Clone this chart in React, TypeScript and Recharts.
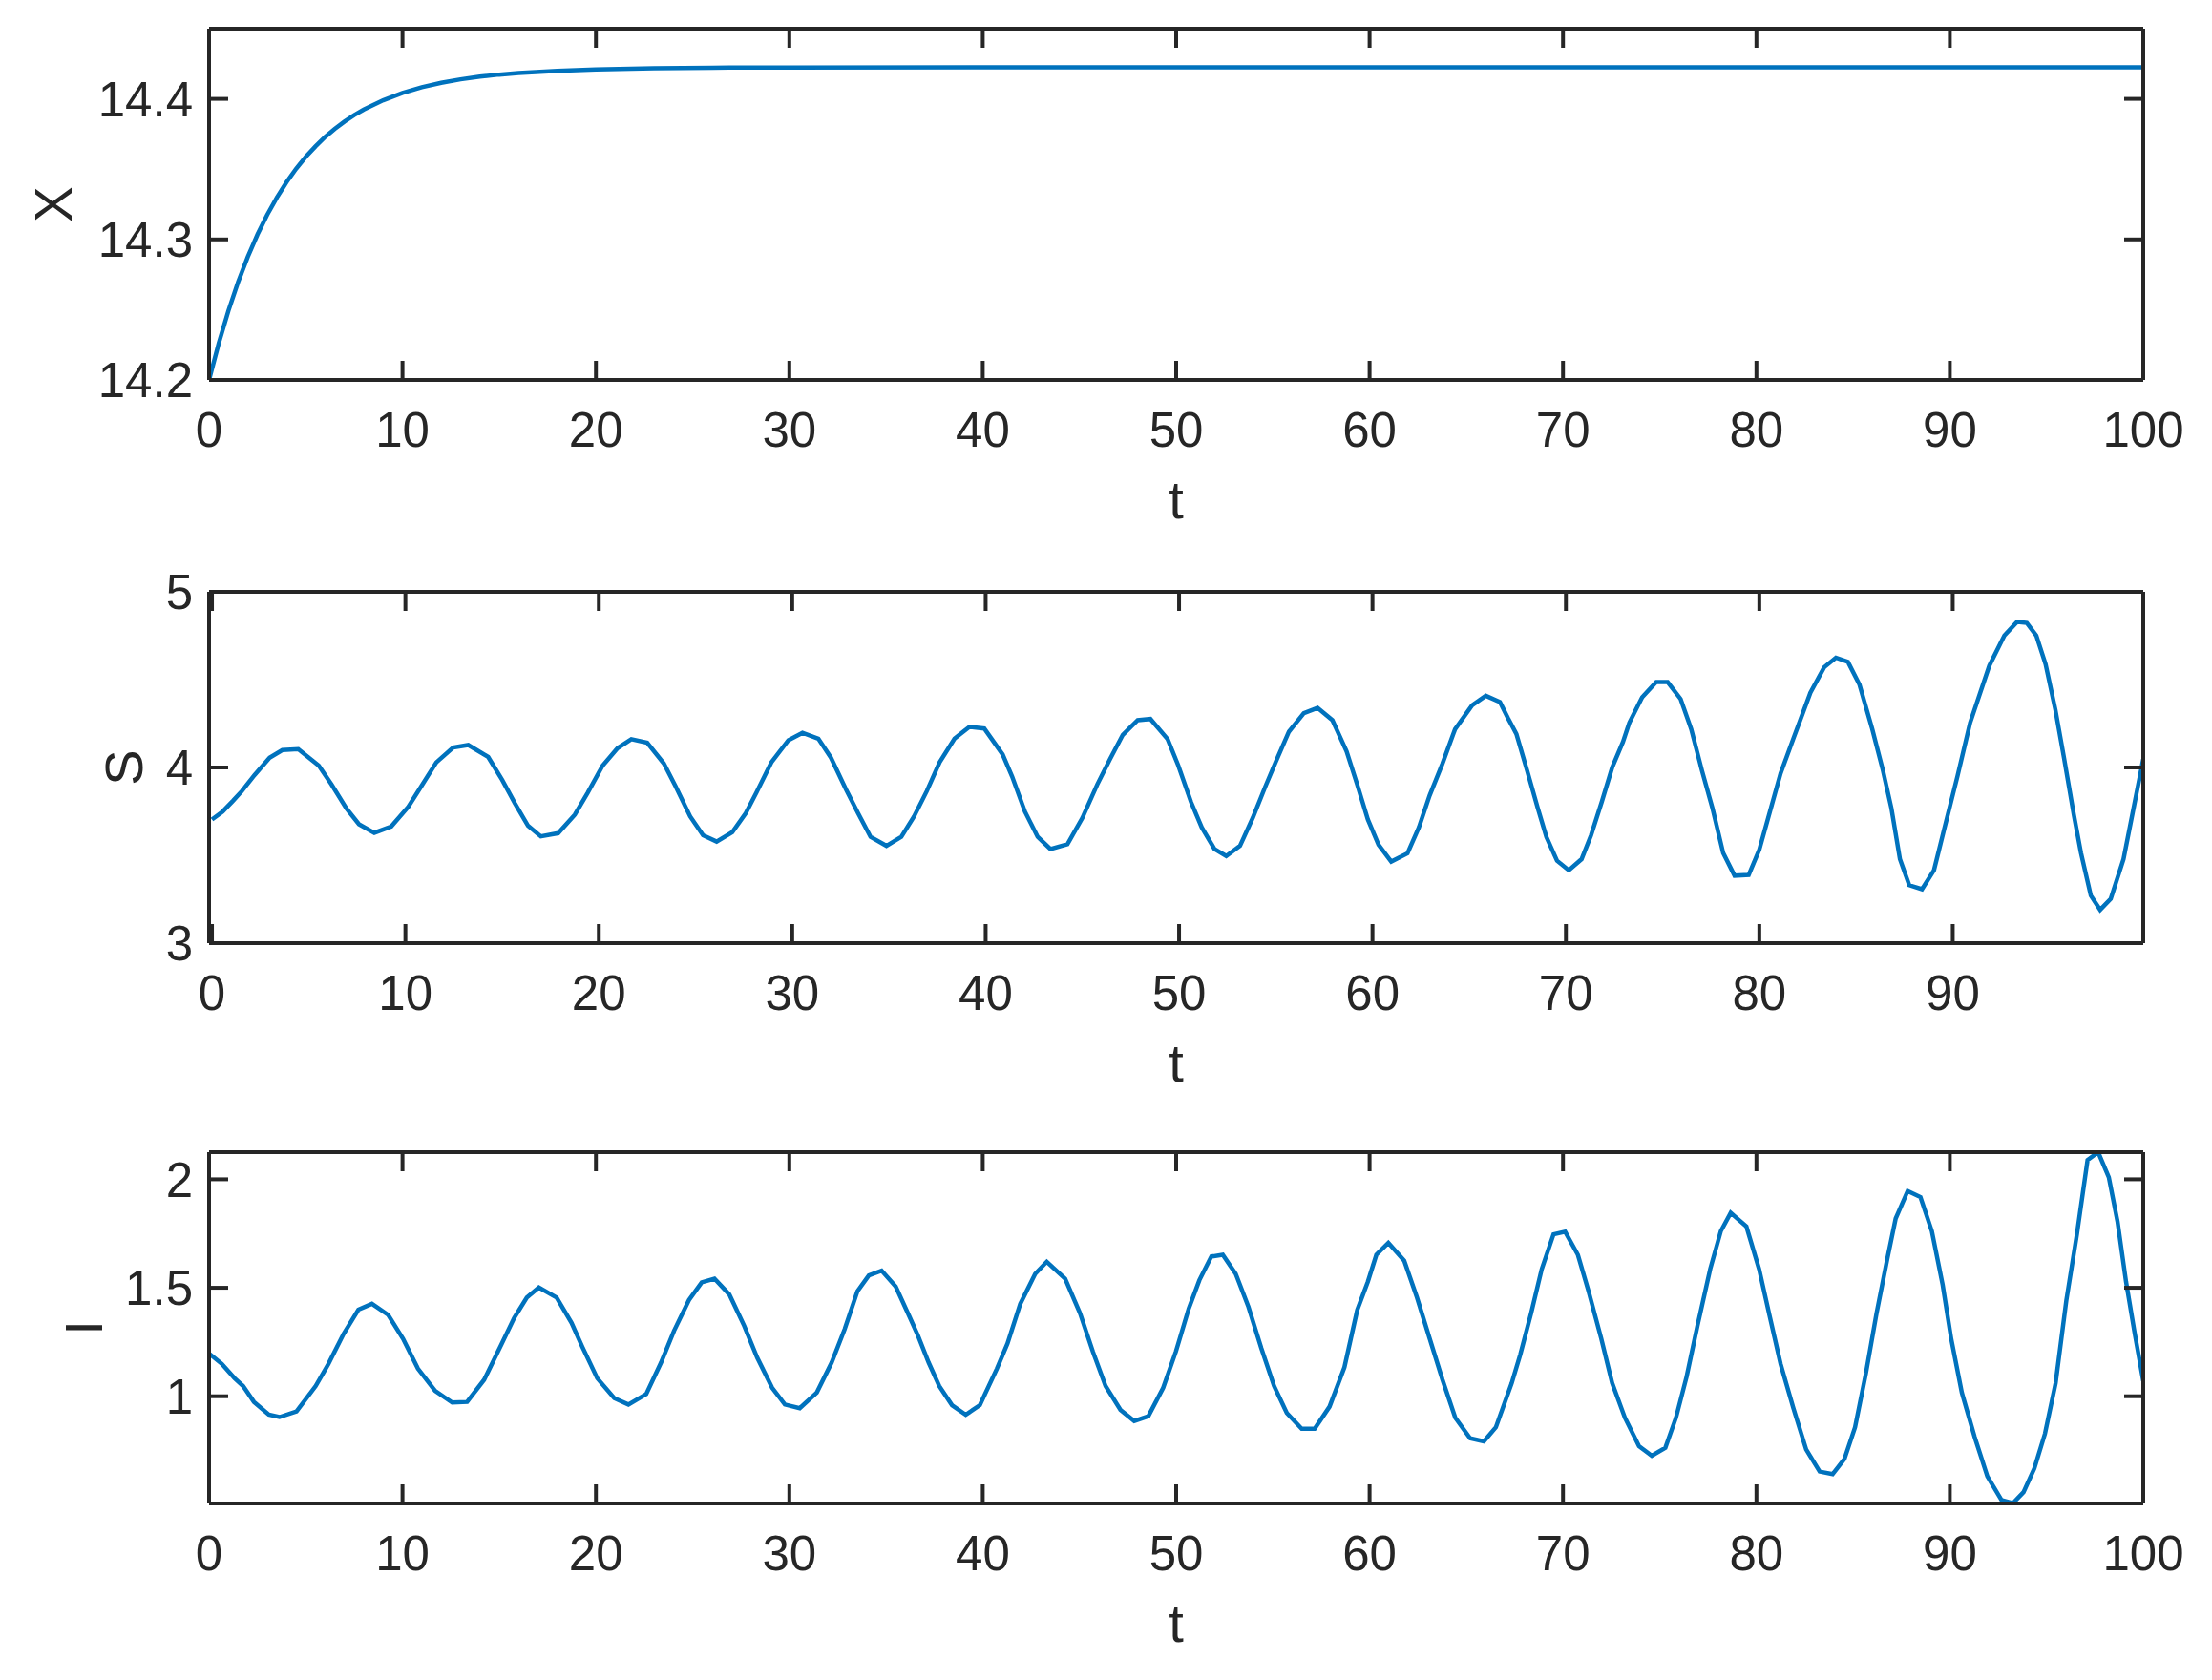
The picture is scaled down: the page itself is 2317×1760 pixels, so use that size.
import React from "react";
import { LineChart, Line, XAxis, YAxis } from "recharts";

const AXIS_COLOR = "#262626";
const LINE_COLOR = "#0072BD";
const FONT = '"Liberation Sans", Arial, Helvetica, sans-serif';

// X(t)
const xTimes = [
  0, 0.5, 1, 1.5, 2, 2.5, 3, 3.5, 4, 4.5, 5, 5.5, 6, 6.5, 7, 7.5, 8, 9, 10, 11,
  12, 13, 14, 15, 16, 18, 20, 23, 26, 30, 40, 50, 60, 70, 80, 90, 100,
];
const xValues = [
  14.2, 14.2261, 14.2492, 14.2696, 14.2875, 14.3034, 14.3174, 14.3297, 14.3406,
  14.3503, 14.3588, 14.3662, 14.3729, 14.3787, 14.3838, 14.3884, 14.3924,
  14.399, 14.4042, 14.4083, 14.4114, 14.4139, 14.4158, 14.4173, 14.4184, 14.42,
  14.421, 14.4218, 14.4222, 14.4224, 14.4225, 14.4225, 14.4225, 14.4225,
  14.4225, 14.4225, 14.4225,
];

// S(t)
const sTimes = [
  0, 0.55, 1.1, 1.55, 2.2, 2.98, 3.64, 4.46, 5.52, 6.18, 6.95, 7.6, 8.39, 9.27,
  10.15, 10.82, 11.6, 12.47, 13.25, 14.28, 15.0, 15.67, 16.34, 17.0, 17.9,
  18.76, 19.43, 20.2, 20.97, 21.68, 22.5, 23.36, 23.97, 24.72, 25.39, 26.09,
  26.9, 27.6, 28.15, 28.92, 29.8, 30.53, 31.35, 32.0, 32.78, 33.4, 34.05, 34.87,
  35.64, 36.3, 36.96, 37.62, 38.39, 39.16, 39.93, 40.88, 41.37, 42.03, 42.69,
  43.35, 44.23, 45.0, 45.77, 46.43, 47.09, 47.86, 48.52, 49.41, 49.96, 50.62,
  51.17, 51.83, 52.44, 53.15, 53.81, 54.47, 55.02, 55.68, 56.45, 57.16, 57.93,
  58.66, 59.21, 59.76, 60.31, 60.97, 61.81, 62.4, 62.95, 63.61, 64.27, 65.15,
  65.86, 66.59, 67.0, 67.44, 67.99, 68.55, 68.99, 69.54, 70.15, 70.81, 71.3,
  71.85, 72.4, 72.95, 73.28, 73.94, 74.67, 75.26, 75.93, 76.48, 77.03, 77.58,
  78.13, 78.72, 79.45, 80.0, 80.55, 81.1, 81.76, 82.64, 83.35, 83.96, 84.58,
  85.18, 85.84, 86.39, 86.83, 87.27, 87.75, 88.41, 89.03, 89.58, 90.24, 90.9,
  91.89, 92.67, 93.33, 93.83, 94.32, 94.8, 95.31, 95.75, 96.26, 96.63, 97.14,
  97.62, 98.17, 98.83, 99.38, 99.85,
];
const sValues = [
  3.704, 3.749, 3.812, 3.866, 3.957, 4.056, 4.099, 4.105, 4.011, 3.903, 3.767,
  3.677, 3.628, 3.664, 3.776, 3.893, 4.029, 4.114, 4.128, 4.06, 3.93, 3.794,
  3.668, 3.608, 3.626, 3.731, 3.857, 4.011, 4.11, 4.161, 4.141, 4.023, 3.893,
  3.722, 3.614, 3.578, 3.632, 3.74, 3.857, 4.029, 4.155, 4.197, 4.164, 4.056,
  3.875, 3.74, 3.605, 3.554, 3.605, 3.722, 3.866, 4.029, 4.164, 4.231, 4.222,
  4.074, 3.948, 3.749, 3.605, 3.536, 3.563, 3.713, 3.903, 4.047, 4.186, 4.269,
  4.276, 4.161, 4.011, 3.803, 3.659, 3.536, 3.496, 3.554, 3.713, 3.894, 4.038,
  4.204, 4.309, 4.339, 4.269, 4.092, 3.903, 3.704, 3.56, 3.464, 3.511, 3.659,
  3.839, 4.02, 4.218, 4.354, 4.408, 4.372, 4.282, 4.191, 3.984, 3.767, 3.605,
  3.469, 3.415, 3.478, 3.614, 3.803, 4.002, 4.146, 4.255, 4.399, 4.486, 4.486,
  4.39, 4.218, 3.984, 3.767, 3.514, 3.384, 3.388, 3.532, 3.749, 3.966, 4.164,
  4.426, 4.57, 4.625, 4.601, 4.471, 4.218, 3.984, 3.767, 3.478, 3.33, 3.307,
  3.415, 3.659, 3.948, 4.255, 4.579, 4.751, 4.829, 4.823, 4.751, 4.588, 4.327,
  4.056, 3.731, 3.514, 3.271, 3.19, 3.253, 3.478, 3.785, 4.047,
];

// I(t)
const iTimes = [
  0, 0.66, 1.32, 1.76, 2.32, 3.09, 3.64, 4.52, 5.51, 6.17, 6.95, 7.72, 8.42,
  9.26, 10.03, 10.8, 11.69, 12.57, 13.34, 14.22, 15.1, 15.77, 16.43, 17.05,
  17.97, 18.74, 19.29, 20.07, 20.95, 21.68, 22.6, 23.37, 24.04, 24.81, 25.47,
  26.13, 26.9, 27.67, 28.34, 29.11, 29.77, 30.54, 31.42, 32.19, 32.86, 33.52,
  34.11, 34.77, 35.5, 36.21, 36.65, 37.2, 37.75, 38.41, 39.12, 39.85, 40.73,
  41.28, 41.94, 42.71, 43.31, 44.26, 45.03, 45.69, 46.35, 47.12, 47.83, 48.56,
  49.33, 49.99, 50.65, 51.2, 51.82, 52.41, 53.08, 53.74, 54.4, 55.06, 55.72,
  56.49, 57.16, 57.93, 58.7, 59.36, 59.91, 60.35, 60.97, 61.79, 62.45, 63.11,
  63.77, 64.43, 65.2, 65.91, 66.53, 67.35, 67.79, 68.35, 68.9, 69.51, 70.11,
  70.77, 71.32, 71.98, 72.54, 73.2, 73.93, 74.59, 75.29, 75.84, 76.39, 76.95,
  77.61, 78.16, 78.67, 79.48, 80.14, 80.69, 81.25, 81.91, 82.57, 83.27, 83.94,
  84.55, 85.1, 85.66, 86.21, 86.76, 87.2, 87.82, 88.48, 89.07, 89.63, 90.07,
  90.62, 91.28, 91.94, 92.67, 93.26, 93.81, 94.37, 94.92, 95.47, 96.02, 96.57,
  97.12, 97.67, 98.22, 98.67, 99.11, 99.55, 100,
];
const iValues = [
  1.197, 1.149, 1.083, 1.047, 0.974, 0.915, 0.904, 0.93, 1.047, 1.149, 1.287,
  1.399, 1.426, 1.375, 1.265, 1.127, 1.025, 0.971, 0.974, 1.076, 1.236, 1.36,
  1.455, 1.501, 1.455, 1.338, 1.229, 1.083, 0.991, 0.962, 1.01, 1.156, 1.302,
  1.443, 1.525, 1.542, 1.469, 1.324, 1.178, 1.039, 0.962, 0.945, 1.017, 1.156,
  1.309, 1.484, 1.557, 1.579, 1.506, 1.367, 1.28, 1.156, 1.047, 0.959, 0.915,
  0.959, 1.127, 1.243, 1.426, 1.564, 1.62, 1.542, 1.382, 1.207, 1.047, 0.937,
  0.886, 0.908, 1.039, 1.207, 1.404, 1.535, 1.644, 1.652, 1.564, 1.411, 1.222,
  1.047, 0.923, 0.85, 0.85, 0.952, 1.134, 1.397, 1.528, 1.652, 1.707, 1.625,
  1.455, 1.265, 1.076, 0.901, 0.806, 0.792, 0.857, 1.061, 1.192, 1.382, 1.586,
  1.746, 1.758, 1.652, 1.484, 1.265, 1.061, 0.901, 0.77, 0.726, 0.762, 0.901,
  1.09, 1.324, 1.586, 1.761, 1.845, 1.783, 1.586, 1.367, 1.149, 0.945, 0.755,
  0.653, 0.641, 0.711, 0.857, 1.105, 1.382, 1.63, 1.819, 1.946, 1.918, 1.761,
  1.513, 1.265, 1.017, 0.813, 0.631, 0.522, 0.507, 0.558, 0.668, 0.828, 1.061,
  1.44, 1.746, 2.089, 2.125, 2.009, 1.805, 1.528, 1.294, 1.071,
];

const tTicks = [0, 10, 20, 30, 40, 50, 60, 70, 80, 90, 100];
const sTimeTicks = [0, 10, 20, 30, 40, 50, 60, 70, 80, 90];
const xTicks = [14.2, 14.3, 14.4];
const sTicks = [3, 4, 5];
const iTicks = [1, 1.5, 2];

const toRows = (ts: number[], vs: number[]) =>
  ts.map((t, i) => ({ t, v: vs[i] }));

const W = 2317;
const PLOT_H = 368;
const M_TOP = 40; // room above the box so the top tick label is not cut
const M_RIGHT = 71;
const X_AXIS_H = 160;
const Y_AXIS_W = 219;
const TICK = 20;
const LW = 4;

interface PanelProps {
  top: number;
  data: { t: number; v: number }[];
  xDomain: [number, number];
  xTickVals: number[];
  yDomain: [number, number];
  yTickVals: number[];
  yLabel: string;
  yLabelCenter: number;
}

const lineStyle = { stroke: AXIS_COLOR, strokeWidth: LW };
const tickText = { fill: AXIS_COLOR, fontSize: 51, fontFamily: FONT };
// mirrored edges keep their tick marks but show no labels
const noLabel = () => <g />;

const Panel = ({
  top,
  data,
  xDomain,
  xTickVals,
  yDomain,
  yTickVals,
  yLabel,
  yLabelCenter,
}: PanelProps) => {
  const plotMidX = Y_AXIS_W + (W - M_RIGHT - 1 - Y_AXIS_W) / 2;
  const xLabel = () => (
    <text
      x={plotMidX}
      y={M_TOP + PLOT_H + 145}
      textAnchor="middle"
      fill={AXIS_COLOR}
      fontSize={56}
      fontFamily={FONT}
    >
      t
    </text>
  );
  const bx = yLabelCenter + 20;
  const cy = M_TOP + PLOT_H / 2;
  const yLab = () => (
    <text
      x={bx}
      y={cy}
      transform={`rotate(-90, ${bx}, ${cy})`}
      textAnchor="middle"
      fill={AXIS_COLOR}
      fontSize={56}
      fontFamily={FONT}
    >
      {yLabel}
    </text>
  );

  return (
    <div style={{ position: "absolute", left: 0, top: top - M_TOP }}>
      <LineChart
        width={W}
        height={M_TOP + PLOT_H + X_AXIS_H}
        data={data}
        margin={{ top: M_TOP - 1, right: M_RIGHT, bottom: 0, left: 0 }}
      >
        <XAxis
          xAxisId="b"
          dataKey="t"
          type="number"
          domain={xDomain}
          ticks={xTickVals}
          allowDataOverflow
          interval={0}
          height={X_AXIS_H}
          tickSize={-TICK}
          tickMargin={54}
          axisLine={lineStyle}
          tickLine={lineStyle}
          tick={tickText}
          label={xLabel}
        />
        <XAxis
          xAxisId="tp"
          orientation="top"
          dataKey="t"
          type="number"
          domain={xDomain}
          ticks={xTickVals}
          allowDataOverflow
          interval={0}
          height={1}
          tick={noLabel}
          tickSize={-TICK}
          axisLine={lineStyle}
          tickLine={lineStyle}
        />
        <YAxis
          yAxisId="l"
          type="number"
          domain={yDomain}
          ticks={yTickVals}
          allowDataOverflow
          interval={0}
          width={Y_AXIS_W}
          tickSize={-TICK}
          tickMargin={37}
          axisLine={lineStyle}
          tickLine={lineStyle}
          tick={tickText}
          label={yLab}
        />
        <YAxis
          yAxisId="r"
          orientation="right"
          dataKey="v"
          type="number"
          domain={yDomain}
          ticks={yTickVals}
          allowDataOverflow
          interval={0}
          width={1}
          tick={noLabel}
          tickSize={-TICK}
          axisLine={lineStyle}
          tickLine={lineStyle}
        />
        <Line
          xAxisId="b"
          yAxisId="l"
          type="linear"
          dataKey="v"
          stroke={LINE_COLOR}
          strokeWidth={4.5}
          dot={false}
          isAnimationActive={false}
        />
        <Line
          xAxisId="tp"
          yAxisId="r"
          type="linear"
          dataKey="v"
          stroke="none"
          dot={false}
          activeDot={false}
          legendType="none"
          isAnimationActive={false}
        />
      </LineChart>
    </div>
  );
};

export default function App() {
  return (
    <div
      style={{
        position: "absolute",
        left: 0,
        top: 0,
        width: W,
        height: 1760,
        background: "#fff",
      }}
    >
      <Panel
        top={30}
        data={toRows(xTimes, xValues)}
        xDomain={[0, 100]}
        xTickVals={tTicks}
        yDomain={[14.2, 14.45]}
        yTickVals={xTicks}
        yLabel="X"
        yLabelCenter={55}
      />
      <Panel
        top={620}
        data={toRows(sTimes, sValues)}
        xDomain={[-0.15, 99.85]}
        xTickVals={sTimeTicks}
        yDomain={[3, 5]}
        yTickVals={sTicks}
        yLabel="S"
        yLabelCenter={129}
      />
      <Panel
        top={1207}
        data={toRows(iTimes, iValues)}
        xDomain={[0, 100]}
        xTickVals={tTicks}
        yDomain={[0.506, 2.125]}
        yTickVals={iTicks}
        yLabel="I"
        yLabelCenter={87}
      />
    </div>
  );
}
